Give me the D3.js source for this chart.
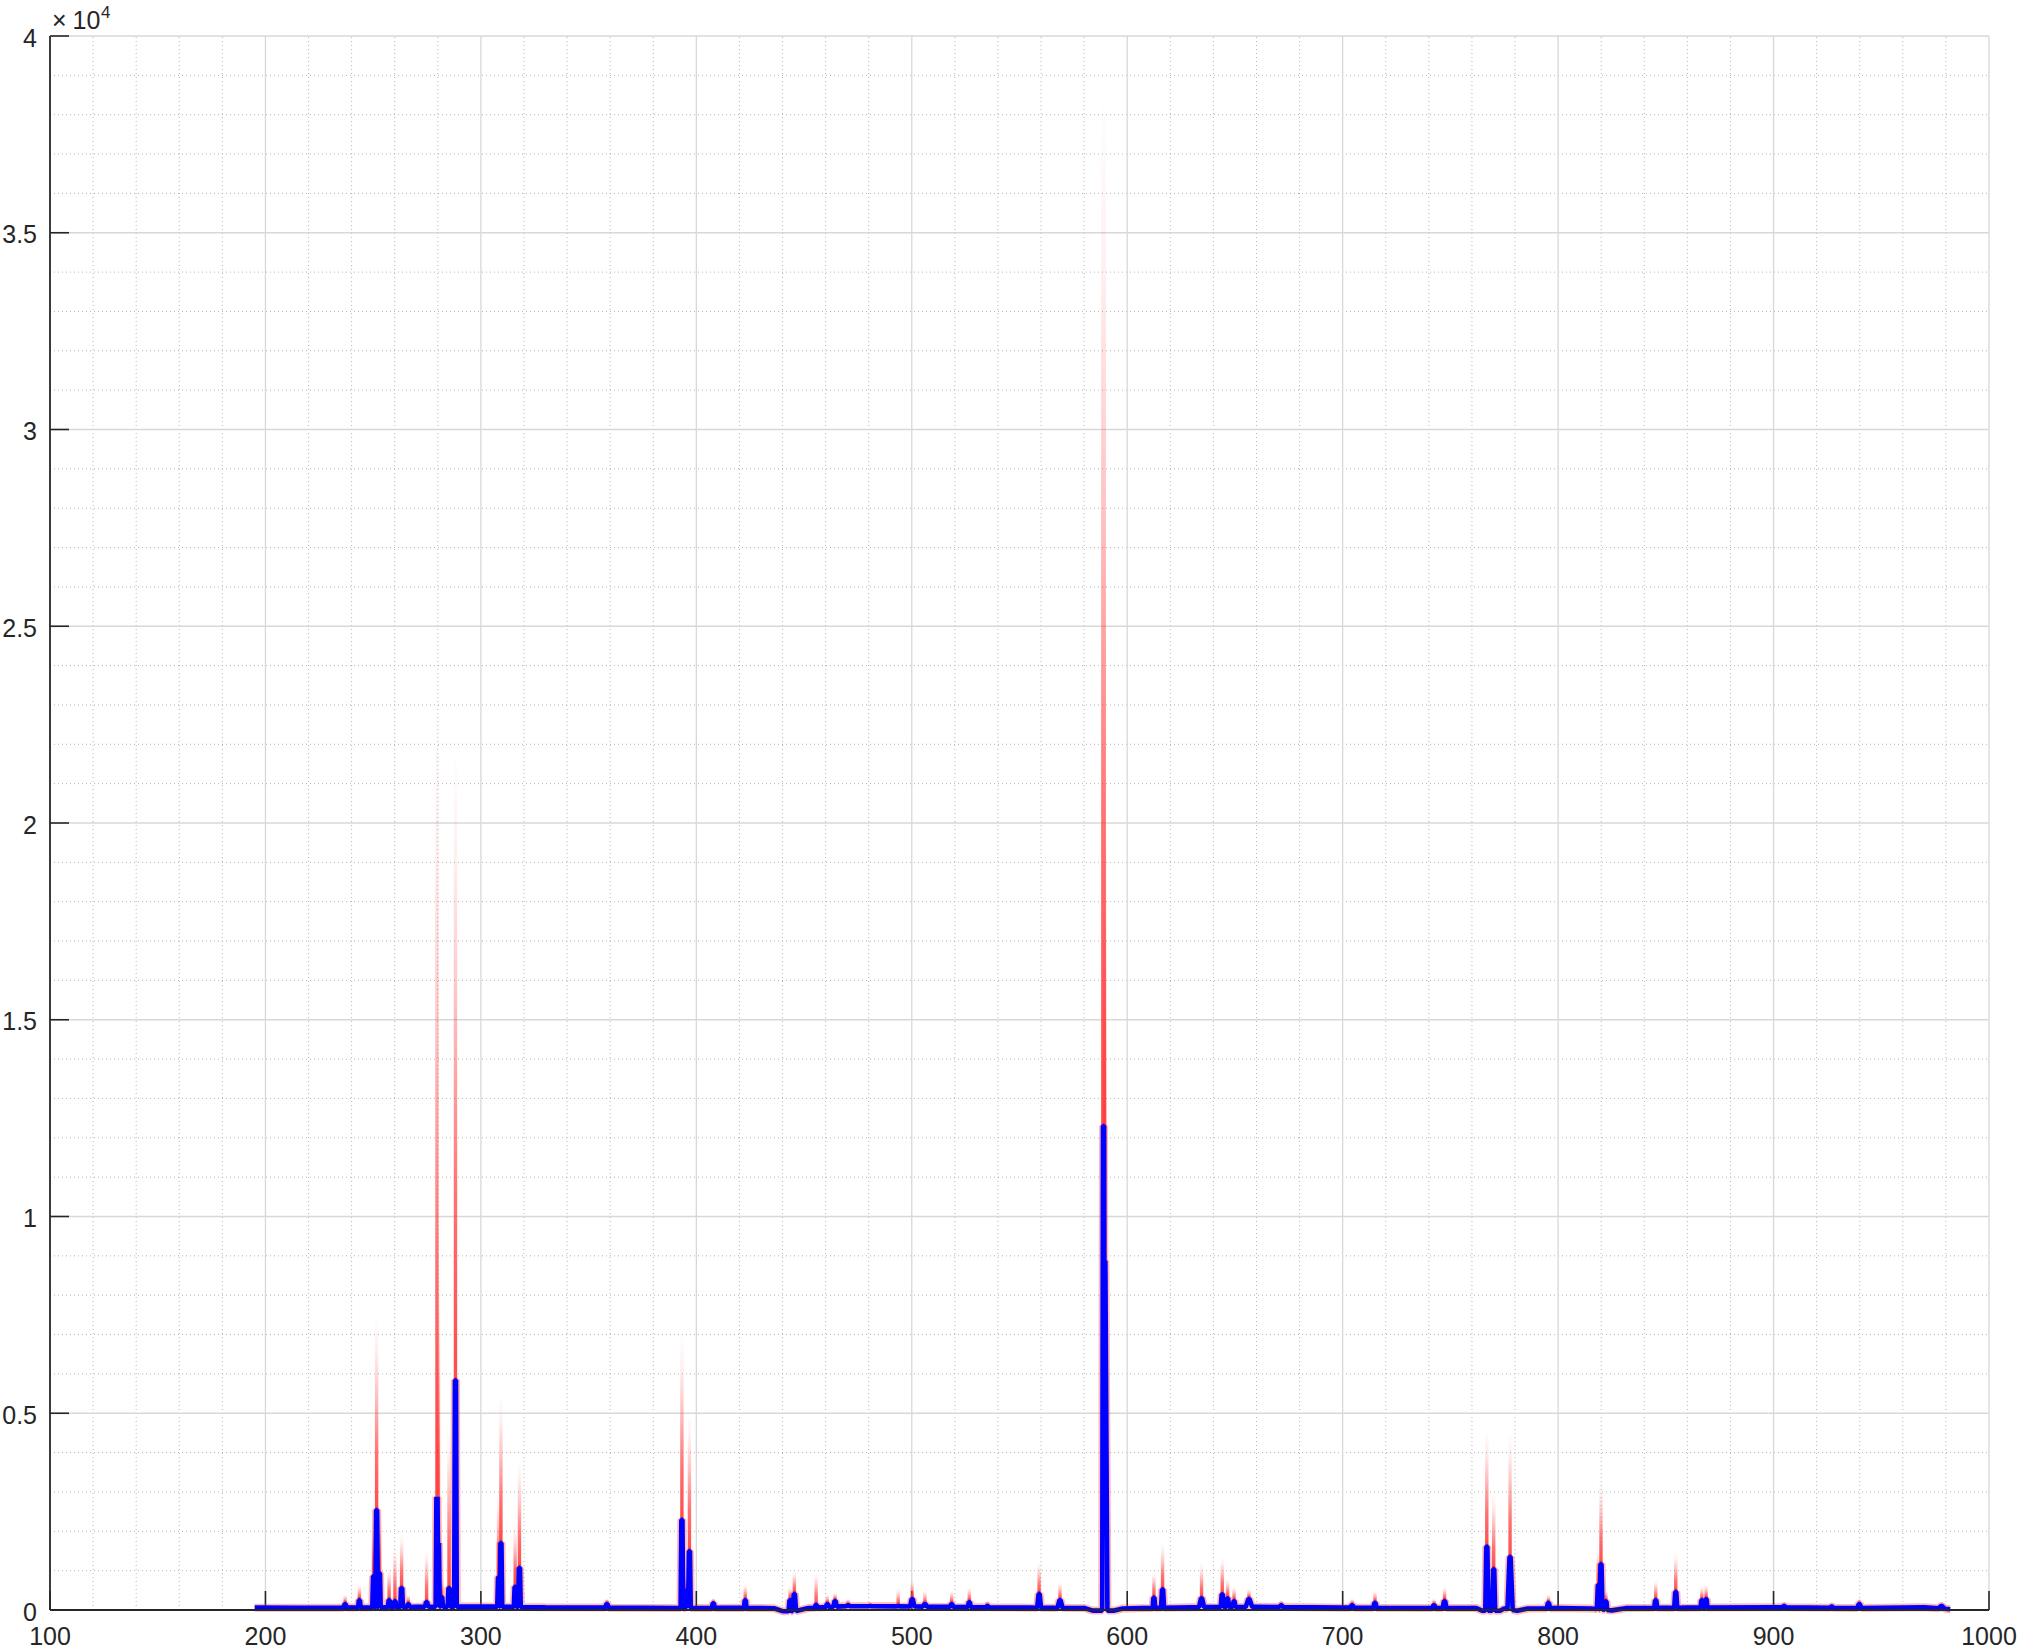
<!DOCTYPE html>
<html>
<head>
<meta charset="utf-8">
<script src="https://cdn.jsdelivr.net/npm/d3@7"></script>
<style>
  html, body { margin: 0; padding: 0; background: #fff; }
  svg text { font-family: "Liberation Sans", Arial, Helvetica, sans-serif; fill: #262626; }
</style>
</head>
<body>
<div id="plot"></div>
<script>
// axis ticks
const xTicks = [100, 200, 300, 400, 500, 600, 700, 800, 900, 1000];
const yTicks = [0, 5000, 10000, 15000, 20000, 25000, 30000, 35000, 40000];
const yTickLabels = ["0", "0.5", "1", "1.5", "2", "2.5", "3", "3.5", "4"];

// continuum of the mean spectrum (nm, counts)
const baseNm =     [195, 215, 235, 256, 270, 300, 330, 360, 390, 420, 436, 440, 446, 452, 470, 500, 530, 555, 580, 584, 594, 598, 630, 660, 700, 740, 762, 765, 773, 775, 781, 786, 800, 815, 825, 832, 860, 900, 940, 970, 982];
const baseCounts = [60,  55,  60,  70,  80,  90,  70,  60,  50,  55,  45, -30, -30,  50, 100,  90,  70,  60,  50, -15, -15,  40,  70,  80,  60,  50,  50, -20, -20,  40, -20,  40,  50,  40, -10,  50,  60,  70,  50,  70,  20];

// emission lines: position, mean height (blue), highest single shot (red), base width in nm
const peakNm =   [237.0, 243.6, 250.2, 251.6, 252.9, 257.4, 260.1, 263.2, 266.3, 274.8, 279.6, 280.3, 281.8, 285.2, 288.2, 308.2, 309.3, 315.9, 317.9, 358.5, 393.3, 395.6, 396.8, 407.9, 422.7, 443.5, 445.5, 455.6, 460.8, 464.4, 470.4, 480.6, 493.7, 500.2, 506.1, 518.5, 526.7, 535.1, 559.1, 568.8, 589.0, 589.6, 612.4, 616.4, 634.5, 644.1, 646.6, 649.6, 656.5, 671.5, 704.4, 715.0, 742.4, 747.3, 766.9, 770.1, 777.7, 795.5, 818.7, 819.9, 822.2, 845.3, 854.6, 866.7, 868.7, 904.9, 927.0, 939.8, 978.0];
const peakMean = [150,   250,   860,   2540,  940,   250,   230,   560,   150,   200,   2880,  1700,  330,   560,   5840,  840,   1700,  590,   1070,  150,   2290,  500,   1500,  170,   250,   250,   410,   130,   150,   230,   120,   100,   100,   280,   150,   150,   200,   100,   410,   250,   12300, 8870,  315,   525,   300,   400,   300,   230,   280,   120,   120,   180,   120,   230,   1610,  1040,  1350,  180,   640,   1170,  220,   250,   460,   250,   280,   100,   90,    150,   100];
const peakMax =  [400,   650,   2200,  7500,  2500,  1060,  1600,  1950,  400,   1500,  22800, 9000,  800,   4600,  22000, 3000,  5500,  2200,  3800,  300,   7000,  900,   5000,  300,   650,   600,   1000,  950,   400,   450,   300,   200,   550,   760,   500,   500,   580,   250,   1220,  710,   38700, 20000, 970,   1700,  1200,  1340,  800,   600,   550,   250,   300,   500,   300,   600,   4600,  3000,  4500,  400,   1500,  3300,  500,   760,   1450,  600,   650,   200,   180,   300,   200];
const peakWidth = [1.2,  1.2,   1.2,   1.2,   1.2,   1.2,   1.2,   1.2,   1.2,   1.6,   1.2,   1.2,   1.2,   1.2,   1.2,   1.2,   1.2,   1.2,   1.2,   1.6,   1.2,   1.2,   1.2,   1.4,   1.2,   1.4,   1.6,   1.2,   1.4,   1.6,   1.6,   1.6,   1.6,   2.0,   2.0,   1.6,   1.4,   1.6,   1.8,   2.4,   4.4,   2.4,   1.2,   1.4,   2.4,   1.4,   1.2,   1.2,   3.0,   1.6,   2.0,   1.6,   1.6,   1.8,   1.4,   1.4,   2.4,   1.6,   1.4,   1.4,   1.2,   1.4,   1.4,   1.2,   1.2,   1.6,   1.6,   2.0,   3.0];

const width = 2020, height = 1651;
const x = d3.scaleLinear().domain([100, 1000]).range([50, 1989]);
const y = d3.scaleLinear().domain([0, 40000]).range([1610, 36]);
const tickLen = 19;

const svg = d3.select("#plot").append("svg")
  .attr("width", width)
  .attr("height", height);

// grid
const xMinor = d3.range(100, 1001, 20).filter(v => v % 100 !== 0);
const yMinor = d3.range(0, 40001, 1000).filter(v => v % 5000 !== 0);

svg.append("g").selectAll("line")
  .data(xMinor).join("line")
  .attr("x1", d => x(d)).attr("x2", d => x(d))
  .attr("y1", y(0)).attr("y2", y(40000))
  .attr("stroke", "#b5b5b5").attr("stroke-width", 1).attr("stroke-dasharray", "1,3");

svg.append("g").selectAll("line")
  .data(yMinor).join("line")
  .attr("x1", x(100)).attr("x2", x(1000))
  .attr("y1", d => y(d)).attr("y2", d => y(d))
  .attr("stroke", "#b5b5b5").attr("stroke-width", 1).attr("stroke-dasharray", "1,3");

svg.append("g").selectAll("line")
  .data(xTicks.slice(1)).join("line")
  .attr("x1", d => x(d)).attr("x2", d => x(d))
  .attr("y1", y(0)).attr("y2", y(40000))
  .attr("stroke", "#d8d8d8").attr("stroke-width", 1.3);

svg.append("g").selectAll("line")
  .data(yTicks.slice(1)).join("line")
  .attr("x1", x(100)).attr("x2", x(1000))
  .attr("y1", d => y(d)).attr("y2", d => y(d))
  .attr("stroke", "#d8d8d8").attr("stroke-width", 1.3);

// ticks (inside the box)
svg.append("g").selectAll("line")
  .data(xTicks).join("line")
  .attr("x1", d => x(d)).attr("x2", d => x(d))
  .attr("y1", y(0)).attr("y2", y(0) - tickLen)
  .attr("stroke", "#262626").attr("stroke-width", 1.6);

svg.append("g").selectAll("line")
  .data(yTicks).join("line")
  .attr("x1", x(100)).attr("x2", x(100) + tickLen)
  .attr("y1", d => y(d)).attr("y2", d => y(d))
  .attr("stroke", "#262626").attr("stroke-width", 1.6);

// red single shots: fading columns above the mean
const defs = svg.append("defs");
const grad = defs.append("linearGradient")
  .attr("id", "fade")
  .attr("x1", 0).attr("y1", 1).attr("x2", 0).attr("y2", 0);
[[0, 0.9], [0.3, 0.7], [0.6, 0.3], [0.82, 0.08], [1, 0]].forEach(s => {
  grad.append("stop").attr("offset", s[0]).attr("stop-color", "#ff3535").attr("stop-opacity", s[1]);
});

const peaks = peakNm.map((nm, i) => ({nm: nm, mean: peakMean[i], max: peakMax[i], w: peakWidth[i]}));

svg.append("g").selectAll("rect")
  .data(peaks).join("rect")
  .attr("x", d => x(d.nm) - (d.w > 3 ? 2.4 : 1.7))
  .attr("width", d => d.w > 3 ? 4.8 : 3.4)
  .attr("y", d => y(d.max))
  .attr("height", d => Math.max(0, y(d.mean * 0.97) - y(d.max)))
  .attr("fill", "url(#fade)");

// mean spectrum built from continuum + lines
const baseAt = d3.scaleLinear().domain(baseNm).range(baseCounts).clamp(true);
const inPeak = nm => peaks.some(p => Math.abs(nm - p.nm) <= p.w / 2);
let pts = baseNm.filter(nm => !inPeak(nm)).map(nm => [nm, baseAt(nm)]);
peaks.forEach(p => {
  const h = p.w / 2;
  pts.push([p.nm - h, baseAt(p.nm - h)]);
  pts.push([p.nm - 0.25, p.mean]);
  pts.push([p.nm + 0.25, p.mean]);
  pts.push([p.nm + h, baseAt(p.nm + h)]);
});
pts.sort((a, b) => a[0] - b[0]);

const line = d3.line()
  .x(d => x(d[0]))
  .y(d => y(d[1]));

svg.append("path")
  .datum(pts)
  .attr("d", line)
  .attr("fill", "none")
  .attr("stroke", "#ff3030")
  .attr("stroke-opacity", 0.35)
  .attr("stroke-width", 8)
  .attr("stroke-linejoin", "bevel");

svg.append("path")
  .datum(pts)
  .attr("d", line)
  .attr("fill", "none")
  .attr("stroke", "#0000ff")
  .attr("stroke-width", 4.6)
  .attr("stroke-linejoin", "bevel");

// axis lines
svg.append("line")
  .attr("x1", x(100)).attr("x2", x(1000))
  .attr("y1", y(0)).attr("y2", y(0))
  .attr("stroke", "#262626").attr("stroke-width", 1.8);
svg.append("line")
  .attr("x1", x(100)).attr("x2", x(100))
  .attr("y1", y(0)).attr("y2", y(40000))
  .attr("stroke", "#262626").attr("stroke-width", 1.8);

// tick labels
svg.append("g").selectAll("text")
  .data(xTicks).join("text")
  .attr("x", d => x(d))
  .attr("y", 1645)
  .attr("text-anchor", "middle")
  .style("font-size", "25px")
  .text(d => d);

svg.append("g").selectAll("text")
  .data(yTicks).join("text")
  .attr("x", 37)
  .attr("y", d => y(d) + 10.5)
  .attr("text-anchor", "end")
  .style("font-size", "25px")
  .text((d, i) => yTickLabels[i]);

// exponent
svg.append("text").attr("x", 52).attr("y", 29).style("font-size", "25px").text("\u00d7");
svg.append("text").attr("x", 72.5).attr("y", 29).style("font-size", "25px").text("10");
svg.append("text").attr("x", 101).attr("y", 18).style("font-size", "17px").text("4");
</script>
</body>
</html>
